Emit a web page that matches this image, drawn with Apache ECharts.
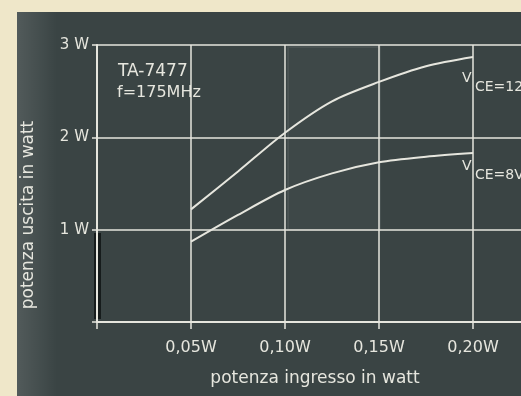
<!DOCTYPE html>
<html>
<head>
<meta charset="utf-8">
<script src="https://cdn.jsdelivr.net/npm/echarts@6/dist/echarts.min.js"></script>
<style>
  html, body { margin: 0; padding: 0; background: #efe7c9; }
  #chart { width: 521px; height: 396px; }
</style>
</head>
<body>
<div id="chart"></div>
<script>
// Input drive (W) and output power (W) of the TA-7477 at 175 MHz
const inputPower = [0.05, 0.075, 0.10, 0.125, 0.15, 0.175, 0.20];
const outputVce12 = [1.22, 1.63, 2.05, 2.39, 2.60, 2.77, 2.87];
const outputVce8 = [0.87, 1.16, 1.43, 1.61, 1.73, 1.79, 1.83];

const xTickLabels = ['', '0,05W', '0,10W', '0,15W', '0,20W', ''];
const yTickLabels = ['', '1 W', '2 W', '3 W'];

const INK = '#e6e6de';
const PANEL = '#3a4444';
const FONT = '"DejaVu Sans", sans-serif';

const pairs = (xs, ys) => xs.map((x, i) => [x, ys[i]]);

const chart = echarts.init(document.getElementById('chart'), null, { renderer: 'canvas' });

chart.setOption({
  backgroundColor: '#efe7c9',
  animation: false,
  graphic: [
    // dark board
    { type: 'rect', z: -10, shape: { x: 17, y: 12, width: 504, height: 384 }, style: { fill: PANEL } },
    // lighter band along the left edge
    {
      type: 'rect', z: -9, shape: { x: 17, y: 12, width: 40, height: 384 },
      style: {
        fill: new echarts.graphic.LinearGradient(0, 0, 1, 0, [
          { offset: 0, color: 'rgba(255,255,255,0.12)' },
          { offset: 1, color: 'rgba(255,255,255,0)' }
        ])
      }
    },
    // faint pasted-up panel in the middle of the grid
    { type: 'rect', z: -8, shape: { x: 288, y: 47, width: 92, height: 183 },
      style: { fill: 'rgba(255,255,255,0.025)', stroke: 'rgba(255,255,255,0.07)', lineWidth: 2 } },
    // dark streak beside the lower y axis
    { type: 'rect', z: -7, shape: { x: 94, y: 233, width: 7, height: 86 }, style: { fill: '#161c1c' } },
    { type: 'text', left: 118, top: 63,
      style: { text: 'TA-7477', fill: INK, font: '17px ' + FONT } },
    { type: 'text', left: 117, top: 85,
      style: { text: 'f=175MHz', fill: INK, font: '16px ' + FONT } },
    { type: 'text', left: 462, top: 71,
      style: { text: 'V', fill: INK, font: '14px ' + FONT } },
    { type: 'text', left: 475, top: 80,
      style: { text: 'CE=12V', fill: INK, font: '14px ' + FONT } },
    { type: 'text', left: 462, top: 159,
      style: { text: 'V', fill: INK, font: '14px ' + FONT } },
    { type: 'text', left: 475, top: 168,
      style: { text: 'CE=8V', fill: INK, font: '14px ' + FONT } },
    // axis titles
    { type: 'text', x: 315, y: 379,
      style: { text: 'potenza ingresso in watt', fill: INK, font: '17px ' + FONT,
               align: 'center', verticalAlign: 'middle' } },
    { type: 'text', x: 29, y: 215, rotation: Math.PI / 2,
      style: { text: 'potenza uscita in watt', fill: INK, font: '17px ' + FONT,
               align: 'center', verticalAlign: 'middle' } }
  ],
  grid: {
    left: 97,
    top: 45,
    bottom: 74,
    right: -46,
    outerBoundsMode: 'none',
    containLabel: false
  },
  xAxis: {
    type: 'value',
    min: 0,
    max: 0.25,
    interval: 0.05,
    axisLine: { show: true, lineStyle: { color: INK, width: 2 } },
    axisTick: { show: true, length: 7, lineStyle: { color: INK, width: 1.5 } },
    splitLine: { show: true, lineStyle: { color: INK, width: 1.5 } },
    axisLabel: {
      color: INK, fontFamily: FONT, fontSize: 16, margin: 18,
      formatter: v => (v > 0.001 && v < 0.201) ? xTickLabels[Math.round(v / 0.05)] : ''
    }
  },
  yAxis: {
    type: 'value',
    min: 0,
    max: 3,
    interval: 1,
    axisLine: { show: true, lineStyle: { color: INK, width: 2 } },
    axisTick: { show: true, length: 5, lineStyle: { color: INK, width: 1.5 } },
    splitLine: { show: true, lineStyle: { color: INK, width: 1.5 } },
    axisLabel: {
      color: INK, fontFamily: FONT, fontSize: 15, margin: 8,
      formatter: v => yTickLabels[Math.round(v)] || ''
    }
  },
  series: [
    {
      name: 'VCE=12V', type: 'line', data: pairs(inputPower, outputVce12),
      smooth: 0.3, showSymbol: false, lineStyle: { color: INK, width: 2 }
    },
    {
      name: 'VCE=8V', type: 'line', data: pairs(inputPower, outputVce8),
      smooth: 0.3, showSymbol: false, lineStyle: { color: INK, width: 2 }
    }
  ]
});
</script>
</body>
</html>
